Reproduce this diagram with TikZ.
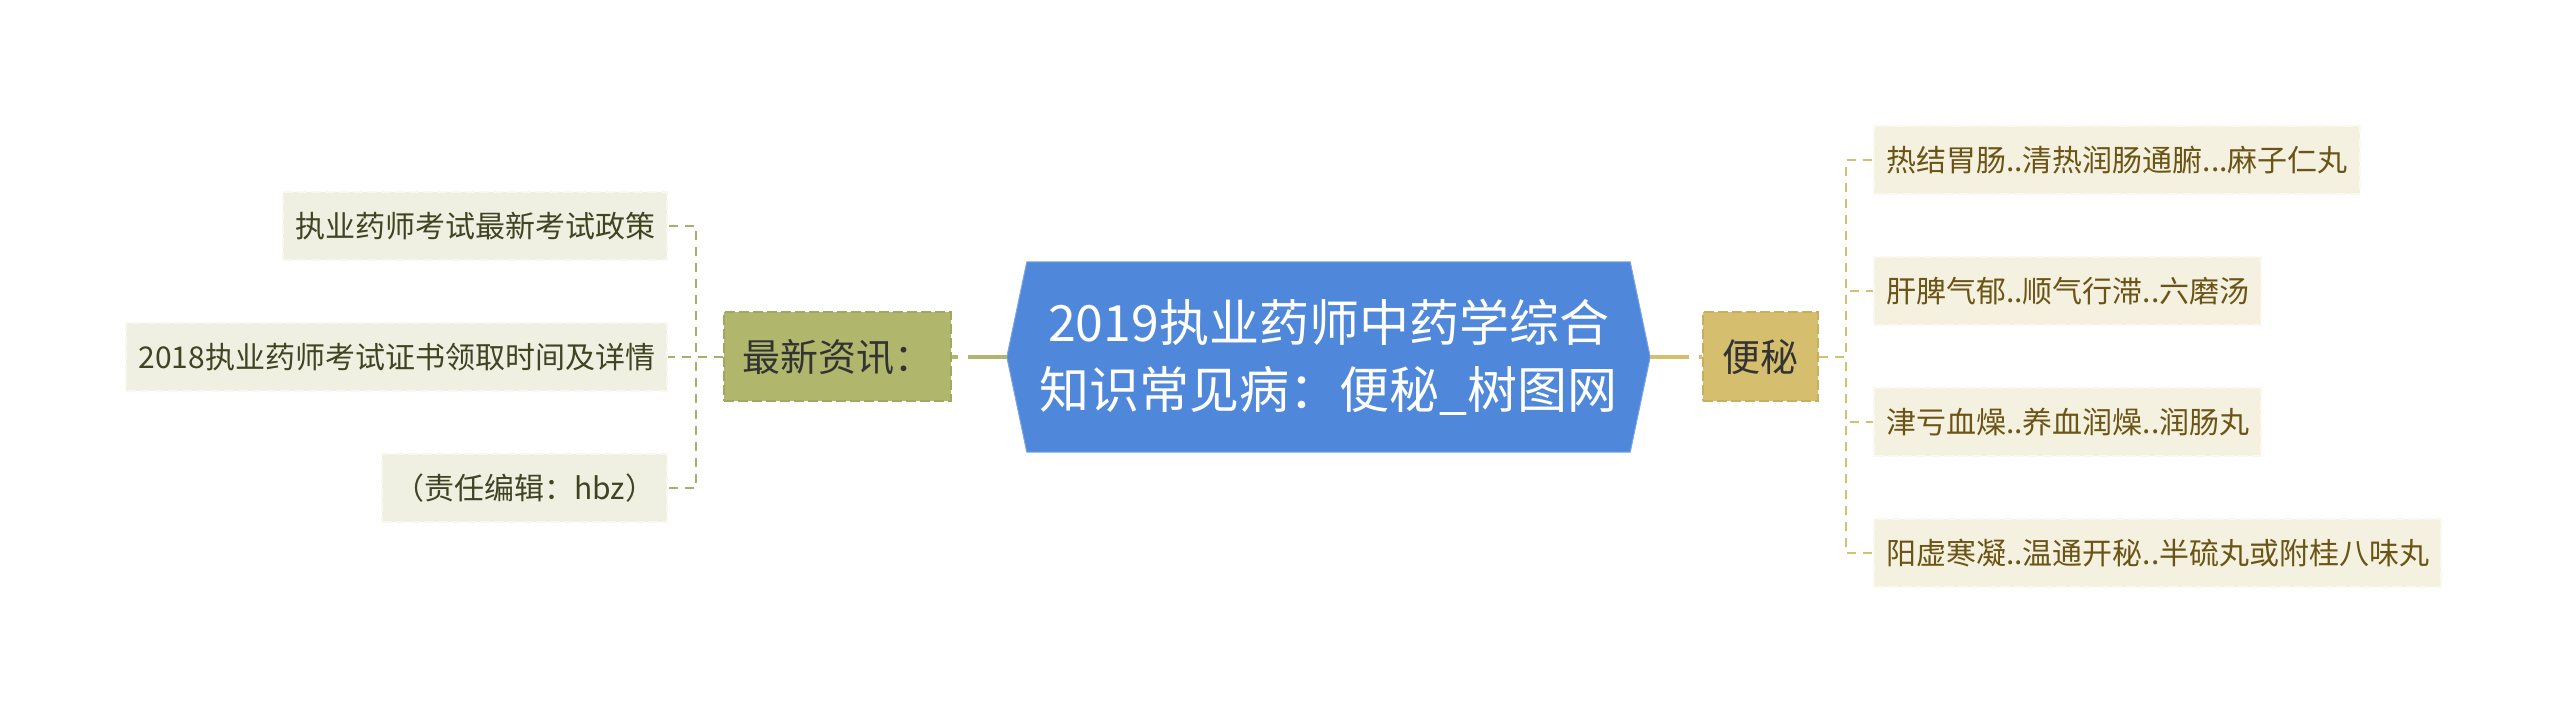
\documentclass[tikz,border=0pt]{standalone}
\usepackage{fontspec}
\setmainfont{Noto Sans CJK SC}
\usetikzlibrary{backgrounds}

\definecolor{hubblue}{HTML}{4F87DA}
\definecolor{newsfill}{HTML}{B0B66C}
\definecolor{newsedge}{HTML}{A1A75E}
\definecolor{bianfill}{HTML}{D5BE6E}
\definecolor{bianedge}{HTML}{C8AF5E}
\definecolor{leafLfill}{HTML}{F0F0E2}
\definecolor{leafRfill}{HTML}{F5F1E0}
\definecolor{leafLtext}{HTML}{3F4422}
\definecolor{leafRtext}{HTML}{6B5516}
\definecolor{linkL}{HTML}{A9AF6B}
\definecolor{linkR}{HTML}{D4BF72}

\tikzset{
	hub/.style={minimum width=603pt, minimum height=190pt, inner sep=0pt, align=center, text=white, font=\fontsize{50pt}{67pt}\selectfont},
	topic/.style={minimum height=89pt, inner sep=0pt, line width=2pt, dash pattern=on 10pt off 4pt, text=black!80, font=\fontsize{38pt}{46pt}\selectfont},
	twig/.style={minimum height=68pt, inner xsep=12pt, inner ysep=0pt, line width=2pt, dash pattern=on 10pt off 4pt, font=\fontsize{30pt}{36pt}\selectfont},
	leafL/.style={twig, anchor=east, fill=leafLfill, draw=white!50!leafLfill, text=leafLtext},
	leafR/.style={twig, anchor=west, fill=leafRfill, draw=white!50!leafRfill, text=leafRtext},
	trunkL/.style={edge from parent path={([xshift=-20pt]\tikzparentnode.west) -- (\tikzchildnode.east)}, edge from parent/.style={draw=newsfill, line width=4pt, dash pattern=on 39pt off 10pt}},
	trunkR/.style={edge from parent path={([xshift=20pt]\tikzparentnode.east) -- (\tikzchildnode.west)}, edge from parent/.style={draw=bianfill, line width=4pt, dash pattern=on 39pt off 10pt}},
	twigL/.style={level distance=169.5pt, edge from parent path={(\tikzparentnode.west) -- ++(-27pt,0pt) |- (\tikzchildnode.east)}, edge from parent/.style={draw=linkL, line width=2pt, dash pattern=on 9pt off 7pt}},
	twigR/.style={level distance=112.5pt, edge from parent path={(\tikzparentnode.east) -- ++(27pt,0pt) |- (\tikzchildnode.west)}, edge from parent/.style={draw=linkR, line width=2pt, dash pattern=on 9pt off 7pt}}
}

\begin{document}
\begin{tikzpicture}[x=1pt, y=1pt,
		level 1/.style={sibling distance=0pt},
		level 2/.style={sibling distance=131pt}]
	\useasboundingbox (0,0) rectangle (2560,714);
	\node[hub] (root) at (1328.5,357) {2019执业药师中药学综合\\知识常见病：便秘\_树图网}
		child[grow=left, level distance=491pt, trunkL] {node[topic, fill=newsfill, draw=newsedge, minimum width=227pt] (news) {最新资讯：}
			child[twigL] {node[leafL] (news1) {执业药师考试最新考试政策}}
			child[twigL] {node[leafL] (news2) {2018执业药师考试证书领取时间及详情}}
			child[twigL] {node[leafL] (news3) {（责任编辑：hbz）}}
		}
		child[grow'=right, level distance=432pt, trunkR] {node[topic, fill=bianfill, draw=bianedge, minimum width=115pt] (bian) {便秘}
			child[twigR] {node[leafR] (bian1) {热结胃肠..清热润肠通腑...麻子仁丸}}
			child[twigR] {node[leafR] (bian2) {肝脾气郁..顺气行滞..六磨汤}}
			child[twigR] {node[leafR] (bian3) {津亏血燥..养血润燥..润肠丸}}
			child[twigR] {node[leafR] (bian4) {阳虚寒凝..温通开秘..半硫丸或附桂八味丸}}
		};
	\begin{scope}[on background layer]
		\filldraw[fill=hubblue, draw=hubblue!75!white, line width=1pt] (root.north west) -- (root.north east) -- ([xshift=20pt]root.east) -- (root.south east) -- (root.south west) -- ([xshift=-20pt]root.west) -- cycle;
	\end{scope}
\end{tikzpicture}
\end{document}
